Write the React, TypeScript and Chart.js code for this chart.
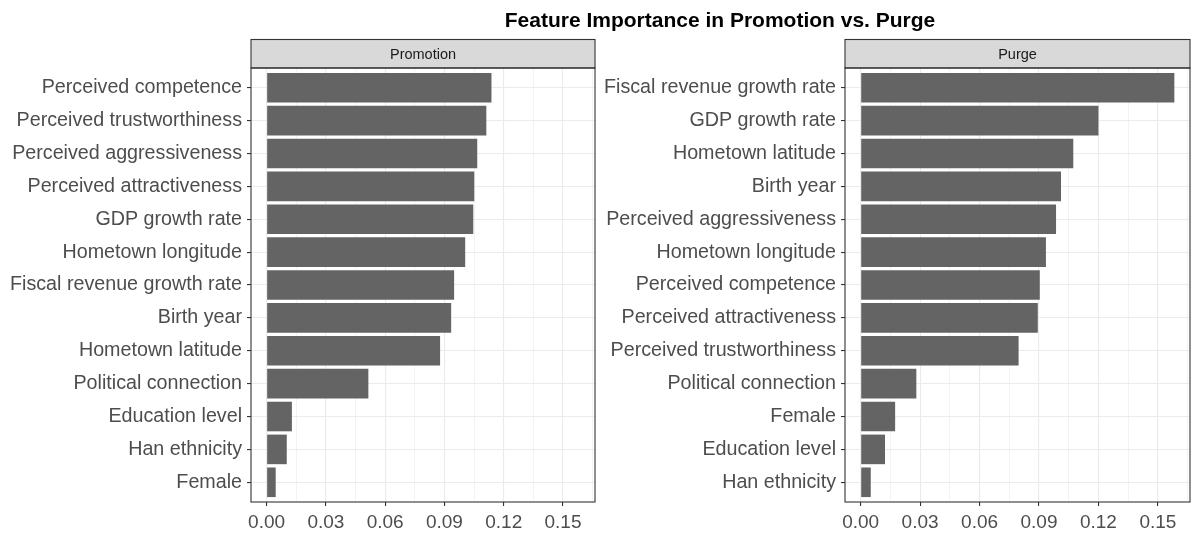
import { useEffect, useRef } from "react";
import { Chart, registerables, ChartConfiguration, Plugin } from "chart.js";

Chart.register(...registerables);

// Promotion panel, top to bottom
const promotionFeatures = [
  "Perceived competence",
  "Perceived trustworthiness",
  "Perceived aggressiveness",
  "Perceived attractiveness",
  "GDP growth rate",
  "Hometown longitude",
  "Fiscal revenue growth rate",
  "Birth year",
  "Hometown latitude",
  "Political connection",
  "Education level",
  "Han ethnicity",
  "Female",
];
const promotionValues = [
  0.1138, 0.1112, 0.1066, 0.1051, 0.1046, 0.1005, 0.0949, 0.0934, 0.0878,
  0.0515, 0.0128, 0.0102, 0.0046,
];

// Purge panel, top to bottom
const purgeFeatures = [
  "Fiscal revenue growth rate",
  "GDP growth rate",
  "Hometown latitude",
  "Birth year",
  "Perceived aggressiveness",
  "Hometown longitude",
  "Perceived competence",
  "Perceived attractiveness",
  "Perceived trustworthiness",
  "Political connection",
  "Female",
  "Education level",
  "Han ethnicity",
];
const purgeValues = [
  0.1583, 0.12, 0.1073, 0.1011, 0.0986, 0.0935, 0.0904, 0.0894, 0.0797,
  0.0281, 0.0174, 0.0123, 0.0051,
];

const xMajorTicks = [0, 0.03, 0.06, 0.09, 0.12, 0.15];
const xMinorTicks = [0.015, 0.045, 0.075, 0.105, 0.135, 0.165];

const FONT = "'Liberation Sans', Arial, sans-serif";
const STRIP_TOP = 39.5;

const isMajor = (v: number) => xMajorTicks.some((m) => Math.abs(m - v) < 1e-6);

type PanelProps = {
  title: string;
  features: string[];
  values: number[];
  axisWidth: number;
  padRight: number;
  left: number;
};

const FacetPanel = ({ title, features, values, axisWidth, padRight, left }: PanelProps) => {
  const chartRef = useRef<HTMLCanvasElement | null>(null);
  const myChartRef = useRef<Chart<"bar"> | null>(null);

  useEffect(() => {
    if (!chartRef.current) return;
    const ctx = chartRef.current.getContext("2d");
    if (!ctx) return;

    if (myChartRef.current) {
      myChartRef.current.destroy();
    }

    // strip on top of the panel plus the full panel border
    const stripPlugin: Plugin<"bar"> = {
      id: "facetStrip",
      afterDraw(chart) {
        const c = chart.ctx;
        const { left: l, right: r, top: t, bottom: b } = chart.chartArea;
        c.save();
        c.lineWidth = 1.1;
        c.strokeStyle = "#333333";
        c.fillStyle = "#D9D9D9";
        c.fillRect(l, STRIP_TOP, r - l, t - STRIP_TOP);
        c.strokeRect(l, STRIP_TOP, r - l, t - STRIP_TOP);
        c.strokeRect(l, t, r - l, b - t);
        c.fillStyle = "#1A1A1A";
        c.font = `14.5px ${FONT}`;
        c.textAlign = "center";
        c.textBaseline = "middle";
        c.fillText(title, (l + r) / 2, (STRIP_TOP + t) / 2 + 1);
        c.restore();
      },
    };

    const config: ChartConfiguration<"bar"> = {
      type: "bar",
      data: {
        datasets: [
          {
            data: values.map((v, i) => ({ x: v, y: i })) as any,
            backgroundColor: "#646464",
            borderWidth: 0,
            barPercentage: 0.9,
            categoryPercentage: 1,
          },
        ],
      },
      options: {
        indexAxis: "y",
        responsive: false,
        animation: false,
        layout: { padding: { top: 68, right: padRight, bottom: 0, left: 0 } },
        plugins: {
          legend: { display: false },
          tooltip: { enabled: false },
        },
        scales: {
          x: {
            type: "linear",
            min: -0.0079,
            max: 0.1662,
            offset: false,
            afterBuildTicks: (axis) => {
              axis.ticks = [...xMajorTicks, ...xMinorTicks]
                .sort((a, b) => a - b)
                .map((value) => ({ value }));
            },
            afterFit: (axis) => {
              axis.height = 38;
            },
            border: { display: false },
            grid: {
              offset: false,
              color: "#EBEBEB",
              lineWidth: (c: any) => (c.tick && isMajor(c.tick.value) ? 1.1 : 0.6),
              tickLength: 4,
              tickWidth: 1.1,
              tickColor: (c: any) =>
                c.tick && isMajor(c.tick.value) ? "#333333" : "rgba(0,0,0,0)",
            },
            ticks: {
              autoSkip: false,
              maxRotation: 0,
              padding: 5,
              color: "#4D4D4D",
              font: { family: FONT, size: 19 },
              callback: (v) => (isMajor(Number(v)) ? Number(v).toFixed(2) : ""),
            },
          },
          y: {
            type: "linear",
            reverse: true,
            offset: false,
            min: -0.6,
            max: features.length - 0.4,
            afterBuildTicks: (axis) => {
              axis.ticks = features.map((_, i) => ({ value: i }));
            },
            afterFit: (axis) => {
              axis.width = axisWidth;
            },
            border: { display: false },
            grid: {
              offset: false,
              color: "#EBEBEB",
              lineWidth: 1.1,
              tickLength: 4,
              tickWidth: 1.1,
              tickColor: "#333333",
            },
            ticks: {
              autoSkip: false,
              padding: 5,
              color: "#4D4D4D",
              font: { family: FONT, size: 19.7 },
              callback: (v) => features[Number(v)] ?? "",
            },
          },
        },
      },
      plugins: [stripPlugin],
    };

    myChartRef.current = new Chart(ctx, config);

    return () => {
      if (myChartRef.current) {
        myChartRef.current.destroy();
        myChartRef.current = null;
      }
    };
  }, [title, features, values, axisWidth, padRight]);

  return (
    <canvas
      ref={chartRef}
      width="600"
      height="540"
      style={{ position: "absolute", left, top: 0, display: "block" }}
    ></canvas>
  );
};

const App = () => {
  return (
    <div
      style={{
        position: "absolute",
        left: 0,
        top: 0,
        width: 1200,
        height: 540,
        background: "#FFFFFF",
        overflow: "hidden",
      }}
    >
      <FacetPanel
        title="Promotion"
        features={promotionFeatures}
        values={promotionValues}
        axisWidth={251}
        padRight={5}
        left={0}
      />
      <FacetPanel
        title="Purge"
        features={purgeFeatures}
        values={purgeValues}
        axisWidth={245}
        padRight={10}
        left={600}
      />
      <div
        style={{
          position: "absolute",
          left: 250,
          width: 940,
          top: 7,
          textAlign: "center",
          fontFamily: FONT,
          fontWeight: "bold",
          fontSize: 21,
          lineHeight: "26px",
          color: "#000000",
        }}
      >
        Feature Importance in Promotion vs. Purge
      </div>
    </div>
  );
};

export default App;
